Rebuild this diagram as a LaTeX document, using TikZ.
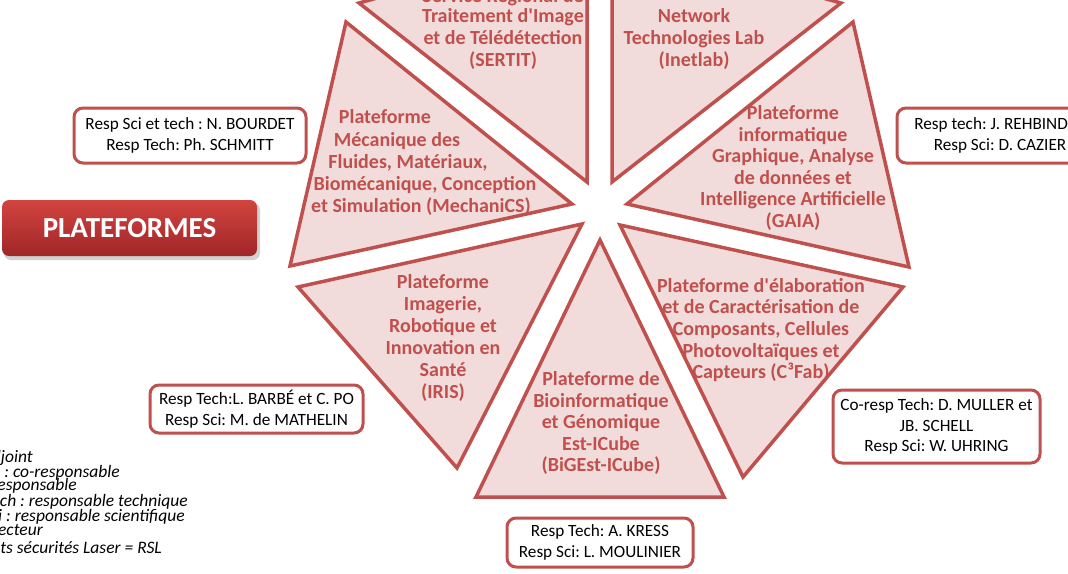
\documentclass[tikz,border=0pt]{standalone}
\usepackage{fontspec}
\setmainfont{Carlito}
\frenchspacing
\definecolor{accred}{RGB}{192,80,77}
\definecolor{pinkfill}{RGB}{242,220,219}
\definecolor{btntop}{RGB}{210,68,64}
\definecolor{btnbot}{RGB}{160,38,40}
\tikzset{
  tri/.style={draw=accred, fill=pinkfill, line width=3.5pt, line join=miter},
  tlabel/.style={anchor=base, text=accred, inner sep=0pt, font=\fontsize{20}{22}\selectfont\bfseries},
  respbox/.style={draw=accred, line width=3pt, rounded corners=9pt, fill=white, align=center, inner sep=0pt, font=\fontsize{17.2}{20.5}\selectfont},
  legendline/.style={anchor=base east, inner sep=0pt, font=\fontsize{17.5}{17.5}\selectfont\itshape},
  button/.style={rounded corners=7pt, top color=btntop, bottom color=btnbot, text=white, inner sep=0pt, font=\fontsize{29}{32}\selectfont\bfseries},
}
\begin{document}
\begin{tikzpicture}[x=1pt,y=-1pt]
\useasboundingbox (0,0) rectangle (1068,573);
\clip (0,0) rectangle (1068,573);
\fill[white] (0,0) rectangle (1068,573);

% triangles
\draw[tri] (359,3) -- (587,182) -- (587,-60) -- cycle;
\draw[tri] (612,182) -- (612,-60) -- (841,3) -- cycle;
\draw[tri] (346,22) -- (572,204) -- (290,266) -- cycle;
\draw[tri] (853,22) -- (627,204) -- (909,267) -- cycle;
\draw[tri] (298,287) -- (582,224) -- (457,468) -- cycle;
\draw[tri] (903,287) -- (620,225) -- (743,477) -- cycle;
\draw[tri] (600,240) -- (724,497) -- (476,497) -- cycle;

% SERTIT
\node[tlabel] (s0) at (503,2) {Service Régional de};
\node[tlabel] (s1) at (503,22.5) {Traitement d\textquotesingle Image};
\node[tlabel] (s2) at (503,44.5) {et de Télédétection};
\node[tlabel] (s3) at (503,66.5) {(SERTIT)};
% Inetlab
\node[tlabel] (n1) at (694,22.5) {Network};
\node[tlabel] (n2) at (694,44.5) {Technologies Lab};
\node[tlabel] (n3) at (694,66.5) {(Inetlab)};
% MechaniCS
\node[tlabel] (m1) at (385,123.5) {Plateforme};
\node[tlabel] (m2) at (397,146) {Mécanique des};
\node[tlabel] (m3) at (408,168) {Fluides, Matériaux,};
\node[tlabel] (m4) at (425,190) {Biomécanique, Conception};
\node[tlabel] (m5) at (421,212) {et Simulation (MechaniCS)};
% GAIA
\node[tlabel] (g1) at (793,119.5) {Plateforme};
\node[tlabel] (g2) at (793,141) {informatique};
\node[tlabel] (g3) at (793,162.5) {Graphique, Analyse};
\node[tlabel] (g4) at (793,184.5) {de données et};
\node[tlabel] (g5) at (793,205.5) {Intelligence Artificielle};
\node[tlabel] (g6) at (793,227.5) {(GAIA)};
% IRIS
\node[tlabel] (i1) at (443,288.5) {Plateforme};
\node[tlabel] (i2) at (443,310.5) {Imagerie,};
\node[tlabel] (i3) at (443,332.5) {Robotique et};
\node[tlabel] (i4) at (443,354.5) {Innovation en};
\node[tlabel] (i5) at (443,376.5) {Santé};
\node[tlabel] (i6) at (443,398.5) {(IRIS)};
% C3Fab
\node[tlabel] (c1) at (761,292.5) {Plateforme d\textquotesingle élaboration};
\node[tlabel] (c2) at (761,313.5) {et de Caractérisation de};
\node[tlabel] (c3) at (761,335.5) {Composants, Cellules};
\node[tlabel] (c4) at (761,357.5) {Photovoltaïques et};
\node[tlabel] (c5) at (761,378.5) {Capteurs (C³Fab)};
% BiGEst
\node[tlabel] (b1) at (601,385.5) {Plateforme de};
\node[tlabel] (b2) at (601,407.5) {Bioinformatique};
\node[tlabel] (b3) at (601,428.5) {et Génomique};
\node[tlabel] (b4) at (601,450.5) {Est-ICube};
\node[tlabel] (b5) at (601,471.5) {(BiGEst-ICube)};

% responsible boxes
\node[respbox, minimum width=232pt, minimum height=55pt] (r1) at (190,135.5) {Resp Sci et tech : N. BOURDET\\Resp Tech: Ph. SCHMITT};
\node[respbox, minimum width=206pt, minimum height=55pt] (r2) at (1000,135.5) {Resp tech: J. REHBINDER\\Resp Sci: D. CAZIER};
\node[respbox, minimum width=213pt, minimum height=48pt] (r3) at (256.5,409) {Resp Tech:L. BARBÉ et C. PO\\Resp Sci: M. de MATHELIN};
\node[respbox, minimum width=207pt, minimum height=73pt] (r4) at (936.5,426.5) {Co-resp Tech: D. MULLER et\\JB. SCHELL\\Resp Sci: W. UHRING};
\node[respbox, minimum width=186pt, minimum height=49pt] (r5) at (600,542.5) {Resp Tech: A. KRESS\\Resp Sci: L. MOULINIER};

% PLATEFORMES button
\fill[black, opacity=0.18, rounded corners=7pt] (4,203) rectangle (260,260);
\node[button, minimum width=255pt, minimum height=56pt] (pf) at (129.5,228) {PLATEFORMES};

% legend
\node[legendline] (l1) at (33,462) {Adj : adjoint};
\node[legendline] (l2) at (120,477) {Co-resp : co-responsable};
\node[legendline] (l3) at (77,490) {Resp : responsable};
\node[legendline] (l4) at (188,506) {Resp Tech : responsable technique};
\node[legendline] (l5) at (185,521) {Resp Sci : responsable scientifique};
\node[legendline] (l6) at (43,535) {Dir : directeur};
\node[legendline] (l7) at (162,553) {Référents sécurités Laser = RSL};
\end{tikzpicture}
\end{document}
